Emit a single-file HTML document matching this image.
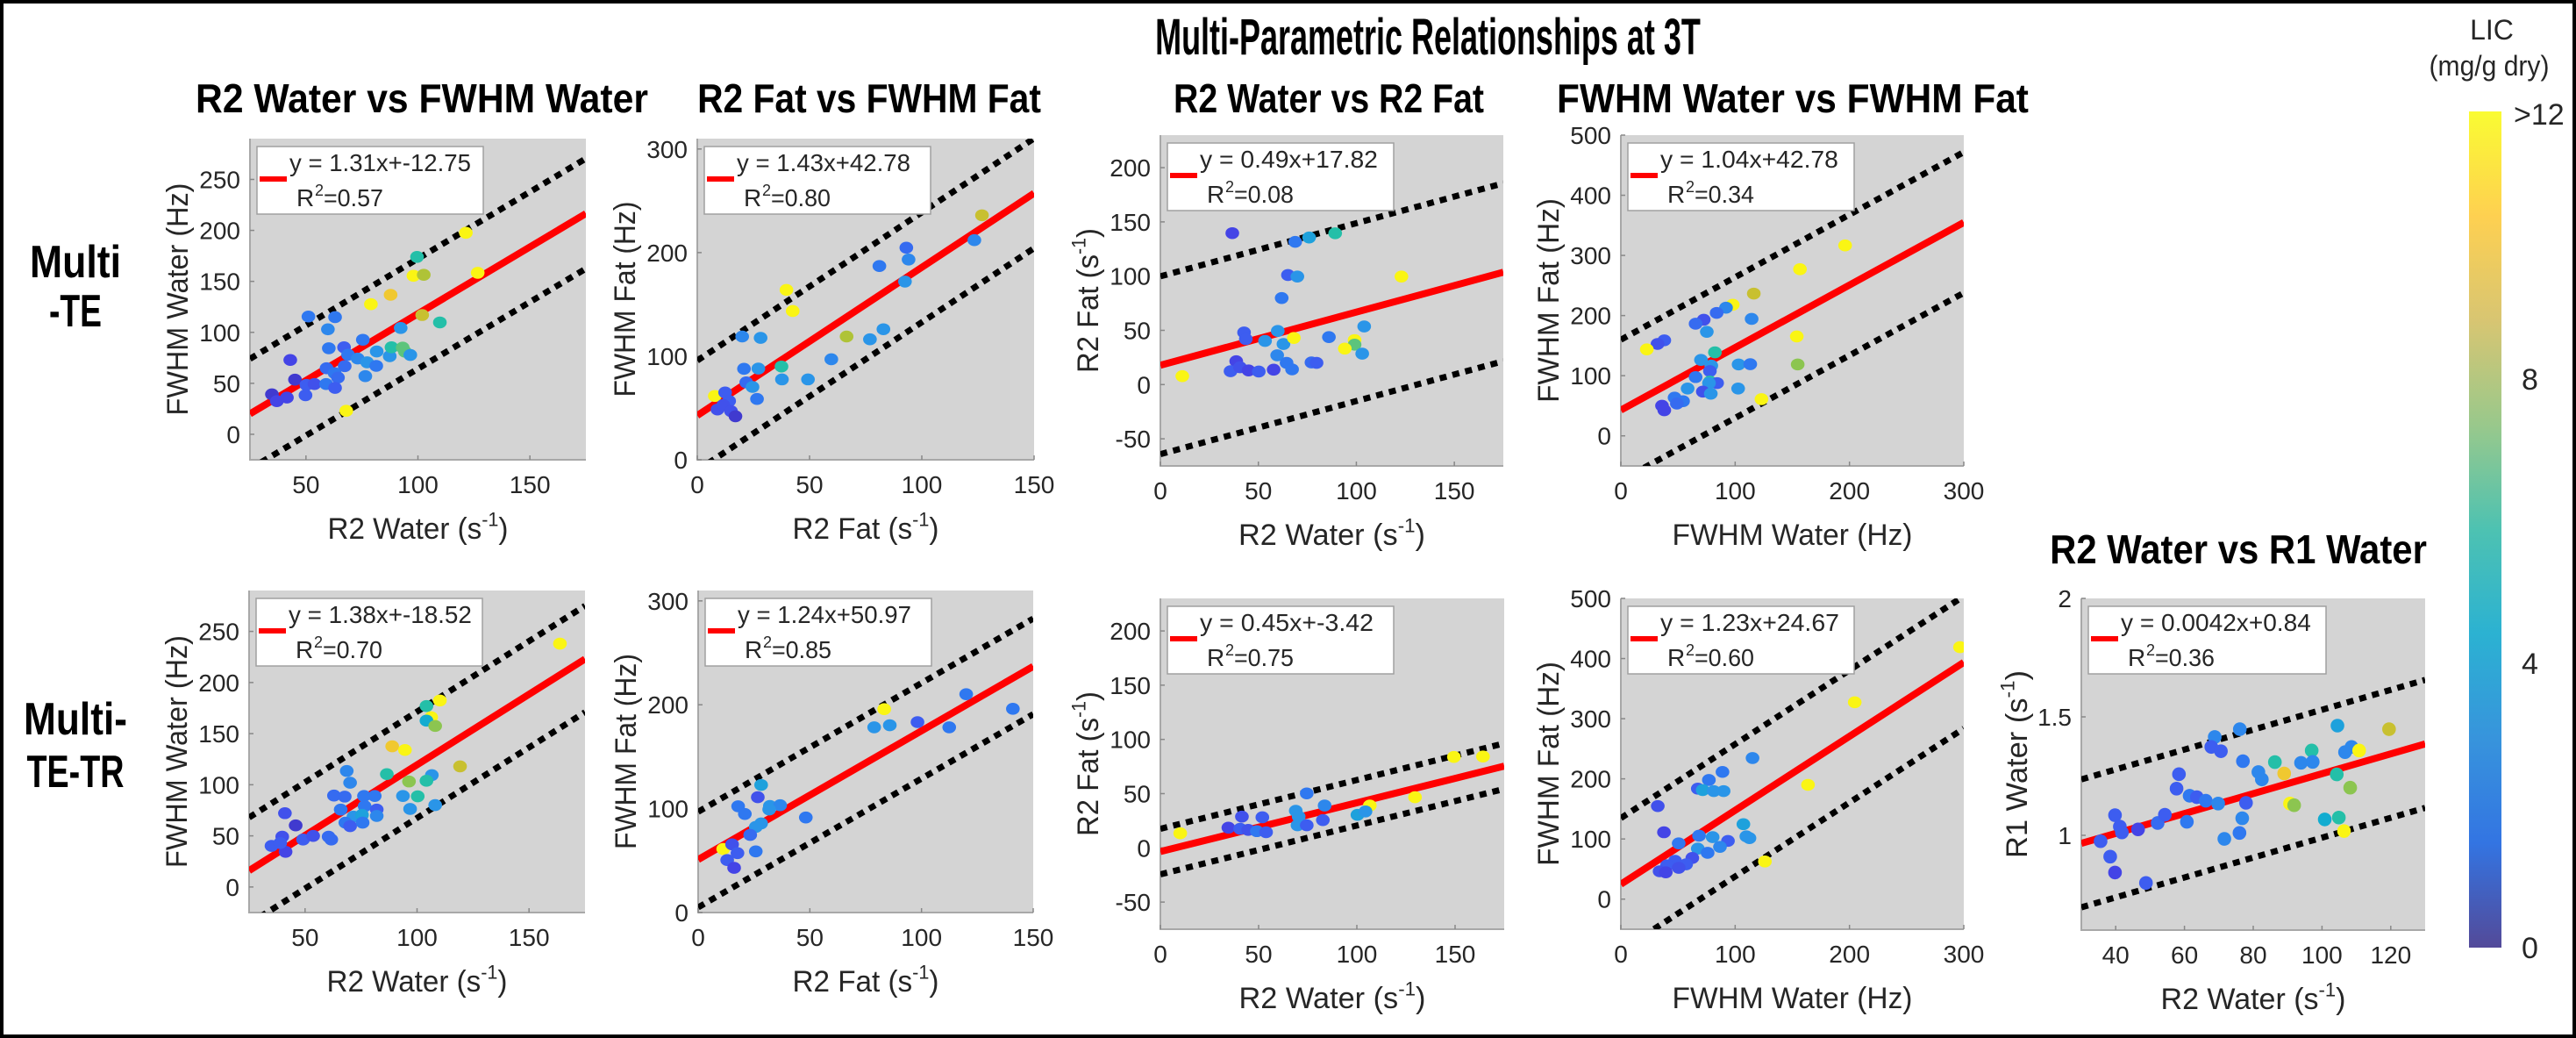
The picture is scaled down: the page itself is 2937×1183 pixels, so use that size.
<!DOCTYPE html>
<html><head><meta charset="utf-8"><title>Multi-Parametric Relationships at 3T</title>
<style>
html,body{margin:0;padding:0;background:#fff;}
svg{display:block;}
text{font-family:"Liberation Sans",sans-serif;fill:#262626;}
.bold{font-family:"Liberation Sans Narrow","Liberation Sans",sans-serif;font-weight:bold;fill:#000;}
</style></head>
<body>
<svg id="fig" xmlns="http://www.w3.org/2000/svg" width="2937" height="1183" viewBox="0 0 2937 1183">
<defs>
<linearGradient id="parula" x1="0" y1="1" x2="0" y2="0">
<stop offset="0" stop-color="#352A87"/><stop offset="0.125" stop-color="#0F5CDD"/><stop offset="0.25" stop-color="#1481D6"/>
<stop offset="0.375" stop-color="#06A4CA"/><stop offset="0.5" stop-color="#2EB7A4"/><stop offset="0.625" stop-color="#87BF77"/>
<stop offset="0.75" stop-color="#D1BB59"/><stop offset="0.875" stop-color="#FEC832"/><stop offset="1" stop-color="#F9FB0E"/>
</linearGradient>
</defs>
<rect x="2" y="2" width="2933" height="1179" fill="#fff" stroke="#000" stroke-width="4"/>
<g id="content"></g>
</svg>
<script>
// ---- data ----
const p1tX=[121.4,99.6,98,102.6,79,87.8,126.7,101.9,109.8,51.1,63,59.8,92.3,75.4,60.2,67,68.8,73.1,77.3,81.6,87.4,88.2,93.2,94.2,96.6,81.4,76.5,67.3,59.2,62.8,64.3,43,45.1,50.2,53.8,59,63,49.8,34.8,37,41.5,68];
const p1tY=[197.6,174,155.5,156.4,127.6,136.8,158.4,117,109.7,115.5,114.9,103,104.3,92.7,84.4,85.3,78,74.3,70.6,81.2,76.6,85.3,85,81,77.8,67.1,57,66.8,64.8,60,55.6,72.9,53.6,48.4,49.3,49.3,45.5,38.3,39.2,32.5,36,23];
const p1tC=[13,6,13,9,13,11,13,10,6,3,3,3.5,4,3,3,2,3,3.5,4,4,4,6,7,7,4,3,3.5,2.5,2.5,3,2.5,1,0.5,2,1.5,3,2,2,0.5,1,1,12];

const p2tX=[126.8,123.4,93.1,94.1,81.1,92.5,39.7,42.5,20,28.2,66.5,76.9,82.9,59.7,37.5,27.2,20.8,37.7,49.3,21.8,24.6,26.6,7.8,12.4,14.2,9,11.6,15,17];
const p2tY=[236,212,204.7,193.3,187,172,164,143.6,119,117.7,119,116.3,126,97,90,88,87.8,77.6,77.6,74.7,70.3,58.7,61.6,65,56.7,48.5,52.9,47,42];
const p2tC=[10,3.5,2.5,3.5,3,4,13,12,3.5,4,9,4,4,3.5,6,4,3,4,4,2.5,4,3,13,2,2,1.5,1.5,1.5,0.5];

const p3tX=[11.2,36.7,68.8,75.9,65.1,69.9,61.9,42.7,43.6,59.9,53.4,62.8,68.1,59.6,38.7,35.8,40.6,45,50.2,57.8,64.4,67.2,77.1,89.2,123,104,86,99.1,99.1,94.1,103,79.7];
const p3tY=[7.8,139.6,131.6,135.6,101,99.6,79.8,48,42,49.4,40.2,37.4,43,27,21.5,12.3,16,13,12,13.7,20,14,20.4,139.5,99.6,53.6,43.8,41,36.8,33.2,28.5,20];
const p3tC=[13,1,3,4.5,2,4,3,2,2,4,4,4,12,3.5,1,2,1.5,1,2,1,3,3,2.5,6,13,4,3,13,7,13,4,2];

const p4tX=[196.2,156.7,116.3,97.9,92,83.8,72.5,65.4,75.2,114.4,153.9,38,32.1,22.7,82.3,70.1,79.1,103,113.2,154.7,77.9,65.4,77.9,84.2,77.1,58.4,102.6,71.7,78.7,47,54.4,36,49,38,123];
const p4tY=[316.6,277,236.5,218,213,204.4,193,186.4,173,194.4,165.3,158.8,152.8,143.8,138.8,126.3,116.7,118.7,119.2,118.7,107.7,97.7,90.2,87.7,87.7,78.7,78.7,73.6,70.1,63.6,57.6,50.1,53.6,42.6,61];
const p4tC=[13,13,10,12,3.5,2.5,1.5,2.5,4,3.5,13,2,1.5,12,6,4,4,4,3,8,2,3,6,2,4,4,4,1.5,4,3,3,1,2.5,1,13];

const p1bX=[163.8,110.2,104.2,106.3,104.2,108.1,88.9,94.6,119.2,68.6,86.5,70.1,96.4,106.6,104.2,62.9,67.7,76.3,81.1,93.7,100.3,76.6,96.9,108.1,65.9,82,71.6,75.4,82,68,70.1,75.7,41,45.8,39.8,49.1,53.6,60.5,61.7,35,41.3,38.9];
const p1bY=[238,182.4,177,166,162.7,157.5,137.6,134,118,113.5,110.4,102,103.2,109.4,103.9,89.4,88.4,89,89,89,88.7,79,76.3,80.1,75.7,75.7,68.8,70.5,69.5,62.9,59.5,62.9,72.2,60.2,49.2,46.4,49.9,49.2,46.4,40.2,34.4,43];
const p1bC=[13,13,6,13,5,8,11,13,10,3.5,6,3.5,8,4,6,2.5,2.5,3,3,4,6,3,4,4,3,2,4,4.5,3.5,3,2,3,1.5,0.5,1.5,2,1.5,2.5,2.5,2,1,2];

const p2bX=[83.3,120,140.9,98.2,78.8,85.8,112.4,28.2,26.7,17.9,20.9,32.1,36.7,48.2,31.8,28.2,25.8,23.3,11.2,15.2,17.6,25.8,13,16.1];
const p2bY=[195.8,210.2,196.1,183.3,178.3,180.3,178.3,122.8,111,102.3,94.9,102.6,103.3,91.5,99.2,85.8,82.4,74.7,61.2,65.6,57.2,58.9,50.5,43];
const p2bC=[12,3,3,2,4,4,3,4.5,1.5,3,3,4,3.5,3,4,4,4,2.5,13,1.5,2,3,2,1];

const p3bX=[10.1,149.4,164.2,129.6,106.6,74.5,83.6,82.7,68.9,70.4,69.8,74.5,100.3,104.4,51.9,41.5,34.6,40.6,44.7,49.1,53.8];
const p3bY=[13.4,83.8,84.2,46.7,39,50.2,39,25.6,34.2,28.8,20.8,20.8,30.4,33.6,28.2,28.8,18.6,17.6,16.6,15.4,14.4];
const p3bC=[13,13,12,13,13,3,3.5,2,4,4,4,2,4.5,4,2,1.5,1,2,1.5,3,2];

const p4bX=[296.7,204.6,163.7,126,115.2,88.9,77,67.3,71.6,81.3,89.9,32.3,37.7,50.6,68.4,80.3,107.2,109.8,112.5,93.7,67.3,86.7,75.9,62.5,47.4,57.1,40.4,50.6,33.9,39.3];
const p4bY=[418.9,327.3,190,62.6,234.6,211.5,198.1,183.7,181.3,179.6,179.6,154.7,111.2,92.7,105.4,103.1,124.6,104.3,101.4,96.8,84,86.9,77,68.4,63.7,57.9,56.2,52.1,46.3,44.6];
const p4bC=[13,13,13,13,3.5,3,3,2,4.5,4,4,1.5,1,3,3,4,4.5,4,4,2,4,3.5,3,1.5,2,2,2,1.5,1.5,1];

const r1X=[119.5,104.5,76.1,68.8,67.8,70.6,108.6,106.7,110.8,97,77,86.3,93.9,97.3,81.5,82.5,89,104.3,108.2,58.4,57.7,61.5,63.6,66.2,69.8,77.9,90.7,91.9,76.8,100.8,104.9,106.4,71.6,76,60.7,52.2,54.3,39.8,41.2,41.8,46.5,35.6,38.4,39.8,48.8];
const r1Y=[1.448,1.463,1.448,1.415,1.373,1.355,1.373,1.351,1.358,1.358,1.313,1.309,1.306,1.31,1.267,1.236,1.261,1.257,1.201,1.258,1.197,1.167,1.161,1.146,1.134,1.137,1.134,1.127,1.072,1.067,1.075,1.018,0.985,1.01,1.057,1.052,1.087,1.085,1.037,1.012,1.025,0.975,0.91,0.843,0.799];
const r1C=[10,4.5,3.5,3.5,2,2,3.5,3.5,13,6,3,6,3.5,3.5,3.5,3.5,11,6,8,2,2,3,2,3,3.5,2,13,8,3.5,5,6,13,3.5,3,3,2.5,2,2,2,2,1,2,2,1,2];

const fitSlope=[1.31,1.43,0.49,1.04,1.38,1.24,0.45,1.23,0.0042];
const fitIntercept=[-12.75,42.78,17.82,42.78,-18.52,50.97,-3.42,24.67,0.84];
const bandHalfWidth=[54,53,82,117,52,46,21,110,0.27];
const r2Values=['0.57','0.80','0.08','0.34','0.70','0.85','0.75','0.60','0.36'];

const ticksR2Water=[50,100,150];
const ticksR2Fat=[0,50,100,150];
const ticksR2WaterFull=[0,50,100,150];
const ticksFWHMWater=[0,100,200,300];
const ticksFWHMWaterY=[0,50,100,150,200,250];
const ticksFWHMFat=[0,100,200,300];
const ticksR2FatY=[-50,0,50,100,150,200];
const ticksFWHMFat500=[0,100,200,300,400,500];
const ticksR1X=[40,60,80,100,120];
const ticksR1Y=[1,1.5,2];
const cbTickValues=[0,4,8];
const cbTickLabels=['0','4','8'];

// ---- helpers ----
const NS='http://www.w3.org/2000/svg';
const root=document.getElementById('content');
function mk(tag,attrs,parent){const e=document.createElementNS(NS,tag);for(const k in attrs)e.setAttribute(k,attrs[k]);(parent||root).appendChild(e);return e;}
function fitW(el,target,ax,ay){const w=el.getBBox().width;if(!w)return;const s=target/w;el.setAttribute('transform',`translate(${ax},${ay}) scale(${s},1) translate(${-ax},${-ay})`);}
function dotColor(v){
  const st=[[59,47,184],[68,68,230],[61,93,240],[47,120,240],[42,149,232],[18,172,208],[36,191,168],[92,196,124],[140,197,80],[175,195,55],[200,192,48],[240,200,48],[250,245,20]];
  let t=Math.max(0,Math.min(12,v));const i=Math.min(st.length-2,Math.floor(t));const f=t-i;
  const c=st[i].map((a,k)=>Math.round(a+(st[i+1][k]-a)*f));return `rgb(${c[0]},${c[1]},${c[2]})`;
}
function label(parent,x,y,main,sup,after,size,anchor,rot,target,name){
  const g=mk('g',{},parent);
  
  
  const t=mk('text',{x:x,y:y,'font-size':size,'text-anchor':anchor},g);
  t.appendChild(document.createTextNode(main));
  if(sup){const s=mk('tspan',{'font-size':size*0.65,dy:-size*0.42},t);s.textContent=sup;
    const a=mk('tspan',{'font-size':size,dy:size*0.42},t);a.textContent=after;}
  if(target)fitW(t,target,x,y);
  if(rot)g.setAttribute('transform',`rotate(-90 ${x} ${y})`);
  return g;
}

const panels=[
 {id:'r2w-fwhmw-te',x0:285,x1:668,y0:158,y1:524,xl:[25,175],yl:[-25,290],xt:ticksR2Water,yt:ticksFWHMWaterY,xs:p1tX,ys:p1tY,cs:p1tC,xlab:['R2 Water (s','-1',')'],ylab:['FWHM Water (Hz)'],xw:206,yw:265,eqw:207,title:'R2 Water vs FWHM Water',tx:[223,739]},
 {id:'r2f-fwhmf-te',x0:795,x1:1179,y0:158,y1:524,xl:[0,150],yl:[0,310],xt:ticksR2Fat,yt:ticksFWHMFat,xs:p2tX,ys:p2tY,cs:p2tC,xlab:['R2 Fat (s','-1',')'],ylab:['FWHM Fat (Hz)'],xw:167,yw:223,eqw:198,title:'R2 Fat vs FWHM Fat',tx:[795,1187]},
 {id:'r2w-r2f-te',x0:1323,x1:1714,y0:154,y1:531,xl:[0,175],yl:[-75,230],xt:ticksR2WaterFull,yt:ticksR2FatY,xs:p3tX,ys:p3tY,cs:p3tC,xlab:['R2 Water (s','-1',')'],ylab:['R2 Fat (s','-1',')'],xw:213,yw:165,eqw:203,title:'R2 Water vs R2 Fat',tx:[1338,1692]},
 {id:'fwhmw-fwhmf-te',x0:1848,x1:2239,y0:154,y1:531,xl:[0,300],yl:[-50,500],xt:ticksFWHMWater,yt:ticksFWHMFat500,xs:p4tX,ys:p4tY,cs:p4tC,xlab:['FWHM Water (Hz)'],ylab:['FWHM Fat (Hz)'],xw:274,yw:233,eqw:203,title:'FWHM Water vs FWHM Fat',tx:[1775,2313]},
 {id:'r2w-fwhmw-tetr',x0:284,x1:667,y0:673,y1:1040,xl:[25,175],yl:[-25,290],xt:ticksR2Water,yt:ticksFWHMWaterY,xs:p1bX,ys:p1bY,cs:p1bC,xlab:['R2 Water (s','-1',')'],ylab:['FWHM Water (Hz)'],xw:206,yw:265,eqw:209},
 {id:'r2f-fwhmf-tetr',x0:796,x1:1178,y0:673,y1:1040,xl:[0,150],yl:[0,310],xt:ticksR2Fat,yt:ticksFWHMFat,xs:p2bX,ys:p2bY,cs:p2bC,xlab:['R2 Fat (s','-1',')'],ylab:['FWHM Fat (Hz)'],xw:167,yw:223,eqw:198},
 {id:'r2w-r2f-tetr',x0:1323,x1:1715,y0:682,y1:1059,xl:[0,175],yl:[-75,230],xt:ticksR2WaterFull,yt:ticksR2FatY,xs:p3bX,ys:p3bY,cs:p3bC,xlab:['R2 Water (s','-1',')'],ylab:['R2 Fat (s','-1',')'],xw:213,yw:165,eqw:198},
 {id:'fwhmw-fwhmf-tetr',x0:1848,x1:2239,y0:682,y1:1059,xl:[0,300],yl:[-50,500],xt:ticksFWHMWater,yt:ticksFWHMFat500,xs:p4bX,ys:p4bY,cs:p4bC,xlab:['FWHM Water (Hz)'],ylab:['FWHM Fat (Hz)'],xw:274,yw:233,eqw:204},
 {id:'r2w-r1w-tetr',x0:2373,x1:2765,y0:682,y1:1060,xl:[30,130],yl:[0.6,2],xt:ticksR1X,yt:ticksR1Y,xs:r1X,ys:r1Y,cs:r1C,xlab:['R2 Water (s','-1',')'],ylab:['R1 Water (s','-1',')'],xw:211,yw:214,eqw:217,title:'R2 Water vs R1 Water',tx:[2337,2767],ty:642,r1:true}
];

panels.forEach((p,pi)=>{
  const g=mk('g',{});
  
  
  const sx=v=>p.x0+(v-p.xl[0])/(p.xl[1]-p.xl[0])*(p.x1-p.x0);
  const sy=v=>p.y1-(v-p.yl[0])/(p.yl[1]-p.yl[0])*(p.y1-p.y0);
  const cid='clip'+pi;
  const cp=mk('clipPath',{id:cid},g);mk('rect',{x:p.x0,y:p.y0,width:p.x1-p.x0,height:p.y1-p.y0},cp);
  const bg=mk('rect',{x:p.x0,y:p.y0,width:p.x1-p.x0,height:p.y1-p.y0,fill:'#d4d4d4'},g);
  
  
  const ax=mk('path',{d:`M${p.x0},${p.y0}V${p.y1}H${p.x1}`,fill:'none',stroke:'#a8a8a8','stroke-width':2},g);
  
  
  p.xt.forEach(v=>{
    const X=sx(v);
    mk('line',{x1:X,x2:X,y1:p.y1,y2:p.y1-5,stroke:'#888','stroke-width':1.5},g);
    const t=mk('text',{x:X,y:p.y1+38,'font-size':28,'text-anchor':'middle'},g);t.textContent=String(v);
    
    
  });
  p.yt.forEach(v=>{
    const Y=sy(v);
    mk('line',{x1:p.x0,x2:p.x0+5,y1:Y,y2:Y,stroke:'#888','stroke-width':1.5},g);
    const t=mk('text',{x:p.x0-11,y:Y+10,'font-size':28,'text-anchor':'end'},g);t.textContent=String(v);
    
    
  });
  const pg=mk('g',{'clip-path':`url(#${cid})`},g);
  const m=fitSlope[pi],b=fitIntercept[pi],d=bandHalfWidth[pi];
  const xa=p.xl[0],xb=p.xl[1];
  [d,-d].forEach((off,k)=>{
    const l=mk('line',{x1:sx(xa),y1:sy(m*xa+b+off),x2:sx(xb),y2:sy(m*xb+b+off),stroke:'#000','stroke-width':7,'stroke-dasharray':'8 7'},pg);
    
    
  });
  const fl=mk('line',{x1:sx(xa),y1:sy(m*xa+b),x2:sx(xb),y2:sy(m*xb+b),stroke:'#ff0000','stroke-width':8},pg);
  
  
  p.xs.forEach((xv,i)=>{
    const c=mk('ellipse',{cx:sx(xv),cy:sy(p.ys[i]),rx:7.8,ry:p.r1?7.8:6.8,fill:dotColor(p.cs[i])},pg);
    
    
  });
  const lg=mk('g',{},g);
  
  
  const lx=p.x0+8,ly=p.y0+9;
  mk('rect',{x:lx,y:ly,width:p.r1?271:258,height:77,fill:'#fff',stroke:'#a0a0a0','stroke-width':1.5},lg);
  mk('line',{x1:lx+3,x2:lx+34,y1:ly+37,y2:ly+37,stroke:'#ff0000','stroke-width':6},lg);
  const eq=mk('text',{x:lx+37,y:ly+28,'font-size':28,fill:'#000'},lg);
  eq.textContent='y = '+fitSlope[pi]+'x+'+fitIntercept[pi];
  
  
  fitW(eq,p.eqw,lx+37,ly+28);
  const rr=mk('text',{x:lx+45,y:ly+68,'font-size':28,fill:'#000'},lg);
  rr.textContent='R';
  const r2=mk('text',{x:lx+66,y:ly+56,'font-size':18,fill:'#000'},lg);r2.textContent='2';
  const rv=mk('text',{x:lx+76,y:ly+68,'font-size':28,fill:'#000'},lg);rv.textContent='='+r2Values[pi];
  
  
  fitW(rv,68,lx+76,ly+68);
  const cx=(p.x0+p.x1)/2,cy=(p.y0+p.y1)/2;
  const xl=p.xlab;
  label(g,cx,p.y1+90,xl[0],xl[1],xl[2],34,'middle',false,p.xw,'x-axis-title');
  const yl=p.ylab;
  label(g,p.r1?p.x0-62:p.x0-71,cy,yl[0],yl[1],yl[2],34,'middle',true,p.yw,'y-axis-title');
  if(p.title){
    const ty=p.ty||128;
    const t=mk('text',{x:(p.tx[0]+p.tx[1])/2,y:ty,'font-size':46,'text-anchor':'middle','class':'bold'},g);
    t.textContent=p.title;
    
    
    fitW(t,p.tx[1]-p.tx[0],(p.tx[0]+p.tx[1])/2,ty);
  }
});

function bigText(x,y,s,size,w,name){const t=mk('text',{x:x,y:y,'font-size':size,'text-anchor':'middle','class':'bold'});t.textContent=s;
  
  
  fitW(t,w,x,y);return t;}
bigText(1628,62,'Multi-Parametric Relationships at 3T',58,622,'main-title');
bigText(86,316,'Multi',52,104,'row-label-multi-te-line1');
bigText(86,372,'-TE',52,60,'row-label-multi-te-line2');
bigText(86,837,'Multi-',52,118,'row-label-multi-te-tr-line1');
bigText(86,897,'TE-TR',52,111,'row-label-multi-te-tr-line2');

const cb=mk('g',{});


const cbTop=127,cbBot=1080;
mk('rect',{x:2815,y:cbTop,width:37,height:cbBot-cbTop,fill:'url(#parula)',opacity:0.85},cb);
cbTickValues.forEach((v,i)=>{
  const t=mk('text',{x:2875,y:cbBot-v*81+12,'font-size':34,fill:'#000'},cb);t.textContent=cbTickLabels[i];
  
  
});
const gt=mk('text',{x:2866,y:142,'font-size':34,fill:'#000'},cb);gt.textContent='>12';


const l1=mk('text',{x:2841,y:45,'font-size':32,'text-anchor':'middle',fill:'#000'},cb);l1.textContent='LIC';


const l2=mk('text',{x:2838,y:86,'font-size':32,'text-anchor':'middle',fill:'#000'},cb);l2.textContent='(mg/g dry)';


fitW(l2,137,2838,86);
</script>
</body></html>
